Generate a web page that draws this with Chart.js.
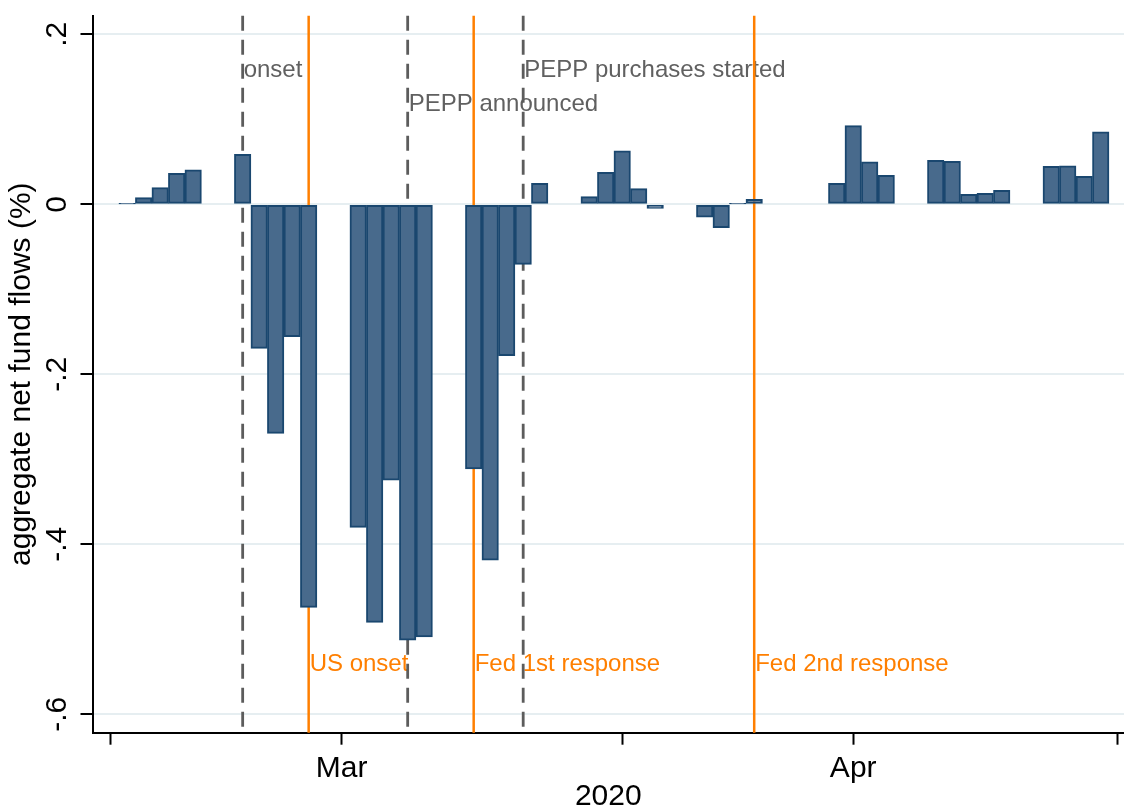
<!DOCTYPE html>
<html>
<head>
<meta charset="utf-8">
<script src="https://cdn.jsdelivr.net/npm/chart.js@4.4.1/dist/chart.umd.min.js"></script>
<style>
  html, body { margin: 0; padding: 0; background: #fff; }
  #wrap { width: 1124px; height: 810px; position: relative; }
</style>
</head>
<body>
<div id="wrap"><canvas id="myChart"></canvas></div>
<script>
// daily aggregate net fund flows, business days only
const dates = [
  '2020-02-17', '2020-02-18', '2020-02-19', '2020-02-20', '2020-02-21',
  '2020-02-24', '2020-02-25', '2020-02-26', '2020-02-27', '2020-02-28',
  '2020-03-02', '2020-03-03', '2020-03-04', '2020-03-05', '2020-03-06',
  '2020-03-09', '2020-03-10', '2020-03-11', '2020-03-12', '2020-03-13',
  '2020-03-16', '2020-03-17', '2020-03-18', '2020-03-19', '2020-03-20',
  '2020-03-23', '2020-03-24', '2020-03-25', '2020-03-26',
  '2020-03-31', '2020-04-01', '2020-04-02', '2020-04-03',
  '2020-04-06', '2020-04-07', '2020-04-08', '2020-04-09', '2020-04-10',
  '2020-04-13', '2020-04-14', '2020-04-15', '2020-04-16'
];
const flows = [
  0.0005, 0.0078, 0.0196, 0.0365, 0.0407,
  0.0588, -0.1694, -0.2694, -0.1558, -0.4741,
  -0.380, -0.4918, -0.3244, -0.5126, -0.509,
  -0.3114, -0.4185, -0.178, -0.0706, 0.0247,
  0.009, 0.0376, 0.063, 0.0184, -0.0047,
  -0.015, -0.0275, 0.0005, 0.0059,
  0.0247, 0.0925, 0.050, 0.0341,
  0.0518, 0.0506, 0.0118, 0.0129, 0.0165,
  0.0447, 0.0454, 0.0329, 0.0854
];

const xTickDates = ['2020-02-16', '2020-03-01', '2020-03-18', '2020-04-01', '2020-04-17'];
const xTickLabels = ['', 'Mar', '', 'Apr', ''];
const yTicks = [-0.6, -0.4, -0.2, 0, 0.2];
const yTickLabels = ['-.6', '-.4', '-.2', '0', '.2'];

// event lines
const eventDates = ['2020-02-24', '2020-02-28', '2020-03-05', '2020-03-09', '2020-03-12', '2020-03-26'];
const eventLabels = ['onset', 'US onset', 'PEPP announced', 'Fed 1st response', 'PEPP purchases started', 'Fed 2nd response'];
const eventGroup = ['euro', 'us', 'euro', 'us', 'euro', 'us'];
const eventTextY = [0.157, -0.541, 0.1175, -0.541, 0.157, -0.541];

const base = Date.UTC(2020, 2, 1);
const toDay = (d) => (Date.parse(d + 'T00:00:00Z') - base) / 86400000;

const FONT = '"Liberation Sans", Arial, Helvetica, sans-serif';
Chart.defaults.font.family = FONT;
Chart.defaults.color = '#000000';

const eventLines = {
  id: 'eventLines',
  beforeDatasetsDraw(chart) {
    const ctx = chart.ctx;
    const xs = chart.scales.x;
    const ys = chart.scales.y;
    const area = chart.chartArea;
    ctx.save();
    // labels first, lines go over them
    ctx.font = '24px ' + FONT;
    ctx.textAlign = 'left';
    ctx.textBaseline = 'middle';
    eventDates.forEach((d, i) => {
      const px = xs.getPixelForValue(toDay(d));
      ctx.fillStyle = eventGroup[i] === 'us' ? '#ff7f00' : '#606060';
      ctx.fillText(eventLabels[i], px + 1, ys.getPixelForValue(eventTextY[i]));
    });
    eventDates.forEach((d, i) => {
      const px = xs.getPixelForValue(toDay(d));
      ctx.beginPath();
      if (eventGroup[i] === 'us') {
        ctx.strokeStyle = '#ff7f00';
        ctx.lineWidth = 2.5;
        ctx.setLineDash([]);
      } else {
        ctx.strokeStyle = '#5c5c5c';
        ctx.lineWidth = 2.8;
        ctx.setLineDash([15, 9]);
      }
      ctx.moveTo(px, area.top);
      ctx.lineTo(px, area.bottom);
      ctx.stroke();
    });
    ctx.restore();
  }
};

const ctx = document.getElementById('myChart');
new Chart(ctx, {
  type: 'bar',
  data: {
    datasets: [{
      data: dates.map((d, i) => ({ x: toDay(d), y: flows[i] })),
      backgroundColor: '#486a8c',
      borderColor: '#1a476f',
      borderWidth: 2,
      borderSkipped: false,
      barPercentage: 1,
      categoryPercentage: 1
    }]
  },
  options: {
    responsive: true,
    maintainAspectRatio: false,
    animation: false,
    layout: { padding: { top: 15.7, right: 0, bottom: 0, left: 0 } },
    plugins: { legend: { display: false }, tooltip: { enabled: false } },
    scales: {
      x: {
        type: 'linear',
        offset: false,
        min: -15.1,
        max: 47.41,
        afterBuildTicks: (scale) => {
          scale.ticks = xTickDates.map((d) => ({ value: toDay(d) }));
        },
        afterFit: (scale) => {
          scale.height = 77.3;
          scale.paddingLeft = 0;
          scale.paddingRight = 0;
        },
        ticks: {
          autoSkip: false,
          maxRotation: 0,
          padding: 6,
          font: { size: 30 },
          color: '#000',
          callback: (v, i) => xTickLabels[i]
        },
        grid: {
          offset: false,
          drawOnChartArea: false,
          tickLength: 12,
          tickColor: '#000',
          tickWidth: 2
        },
        border: { display: true, color: '#000', width: 2 },
        title: {
          display: true,
          text: '2020',
          color: '#000',
          font: { size: 30, lineHeight: 1 },
          padding: { top: 0, bottom: -1.5 }
        }
      },
      y: {
        min: -0.6216,
        max: 0.2219,
        afterBuildTicks: (scale) => {
          scale.ticks = yTicks.map((v) => ({ value: v }));
        },
        afterFit: (scale) => {
          scale.width = 92.5;
          scale.paddingTop = 0;
          scale.paddingBottom = 0;
        },
        ticks: {
          minRotation: 90,
          maxRotation: 90,
          crossAlign: 'center',
          padding: 5,
          font: { size: 30 },
          color: '#000',
          callback: (v, i) => yTickLabels[i]
        },
        grid: {
          color: '#e6eef1',
          lineWidth: 2,
          tickLength: 12,
          tickColor: '#000',
          tickWidth: 2
        },
        border: { display: true, color: '#000', width: 2 },
        title: {
          display: true,
          text: 'aggregate net fund flows (%)',
          color: '#000',
          font: { size: 30, lineHeight: 1 },
          padding: { top: 6.5, bottom: 0 }
        }
      }
    }
  },
  plugins: [eventLines]
});
</script>
</body>
</html>
